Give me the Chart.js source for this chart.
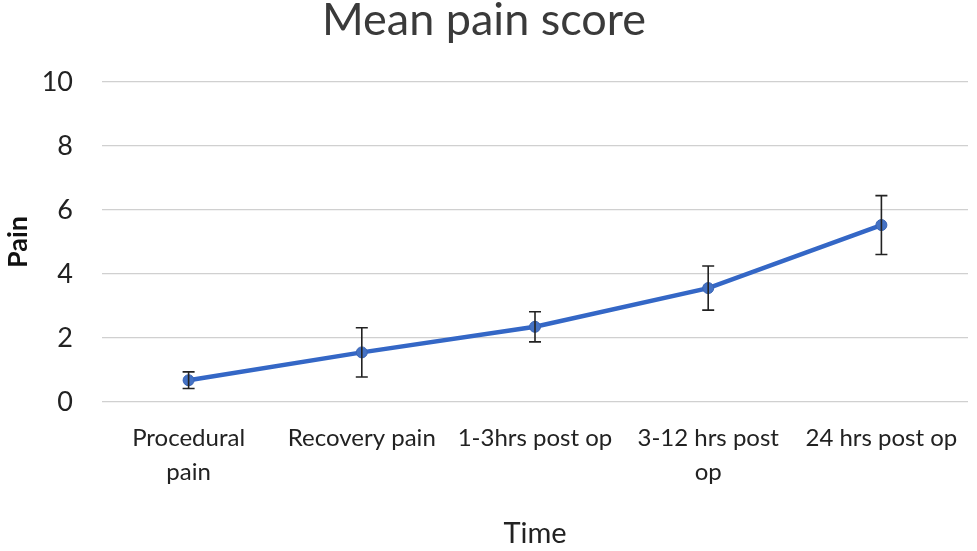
<!DOCTYPE html>
<html lang="en">
<head>
  <meta charset="UTF-8">
  <title>Mean pain score</title>
  <script src="https://cdn.jsdelivr.net/npm/chart.js"></script>
  <style>
    html, body { margin: 0; padding: 0; background: #fff; overflow: hidden; }
    #wrap { width: 977px; height: 551px; }
  </style>
</head>
<body>
  <div id="wrap"><canvas id="painChart"></canvas></div>

<script>
  // values
  const categories = [
    ['Procedural', 'pain'],
    'Recovery pain',
    '1-3hrs post op',
    ['3-12 hrs post', 'op'],
    '24 hrs post op'
  ];
  const meanPain = [0.68, 1.55, 2.35, 3.56, 5.53];
  const errPain = [0.26, 0.77, 0.47, 0.69, 0.92];
  const yTicks = [0, 2, 4, 6, 8, 10];

  const fontFamily = 'Lato, "Open Sans", sans-serif';

  // draws the +/- error bars using the chart's own scales
  const errorBars = {
    id: 'errorBars',
    afterDatasetsDraw(chart) {
      const ctx = chart.ctx;
      const x = chart.scales.x;
      const y = chart.scales.y;
      ctx.save();
      ctx.strokeStyle = '#222';
      ctx.lineWidth = 1.6;
      meanPain.forEach((m, i) => {
        const px = x.getPixelForValue(i);
        const top = y.getPixelForValue(m + errPain[i]);
        const bot = y.getPixelForValue(m - errPain[i]);
        ctx.beginPath();
        ctx.moveTo(px, top); ctx.lineTo(px, bot);
        ctx.moveTo(px - 6, top); ctx.lineTo(px + 6, top);
        ctx.moveTo(px - 6, bot); ctx.lineTo(px + 6, bot);
        ctx.stroke();
      });
      ctx.restore();
    }
  };

  new Chart(document.getElementById('painChart'), {
    type: 'line',
    data: {
      labels: categories,
      datasets: [{
        label: 'Mean pain score',
        data: meanPain,
        borderColor: '#3467c6',
        backgroundColor: '#4472c4',
        borderWidth: 4.5,
        pointRadius: 5.5,
        pointBackgroundColor: '#4472c4',
        pointBorderColor: '#3a64b4',
        pointBorderWidth: 1,
        tension: 0
      }]
    },
    options: {
      responsive: true,
      maintainAspectRatio: false,
      animation: false,
      layout: { padding: { top: 0, right: 9, left: 0, bottom: 0 } },
      plugins: {
        legend: { display: false },
        tooltip: { enabled: false },
        title: {
          display: true,
          text: 'Mean pain score',
          color: '#3a3a3a',
          font: { family: fontFamily, size: 45, weight: 'normal', lineHeight: 0.9 },
          padding: { top: 0, bottom: 41.5 }
        }
      },
      scales: {
        x: {
          offset: true,
          grid: { display: false },
          border: { display: false },
          ticks: {
            color: '#222',
            font: { family: fontFamily, size: 24, lineHeight: 1.42 },
            maxRotation: 0,
            autoSkip: false,
            padding: 11
          },
          title: {
            display: true,
            text: 'Time',
            color: '#222',
            font: { family: fontFamily, size: 29 },
            padding: { top: 20, bottom: 0 }
          },
          afterFit(scale) { scale.height = 149; }
        },
        y: {
          min: 0,
          max: 10,
          afterBuildTicks(scale) { scale.ticks = yTicks.map(v => ({ value: v })); },
          grid: { color: '#d0d0d0', lineWidth: 1.3, drawTicks: false },
          border: { display: false },
          ticks: {
            color: '#222',
            font: { family: fontFamily, size: 27 },
            padding: 29
          },
          title: {
            display: true,
            text: 'Pain',
            color: '#111',
            font: { family: fontFamily, size: 27, weight: 'bold' },
            padding: { top: 2, bottom: 0 }
          },
          afterFit(scale) { scale.width = 102; }
        }
      }
    },
    plugins: [errorBars]
  });
</script>
</body>
</html>
